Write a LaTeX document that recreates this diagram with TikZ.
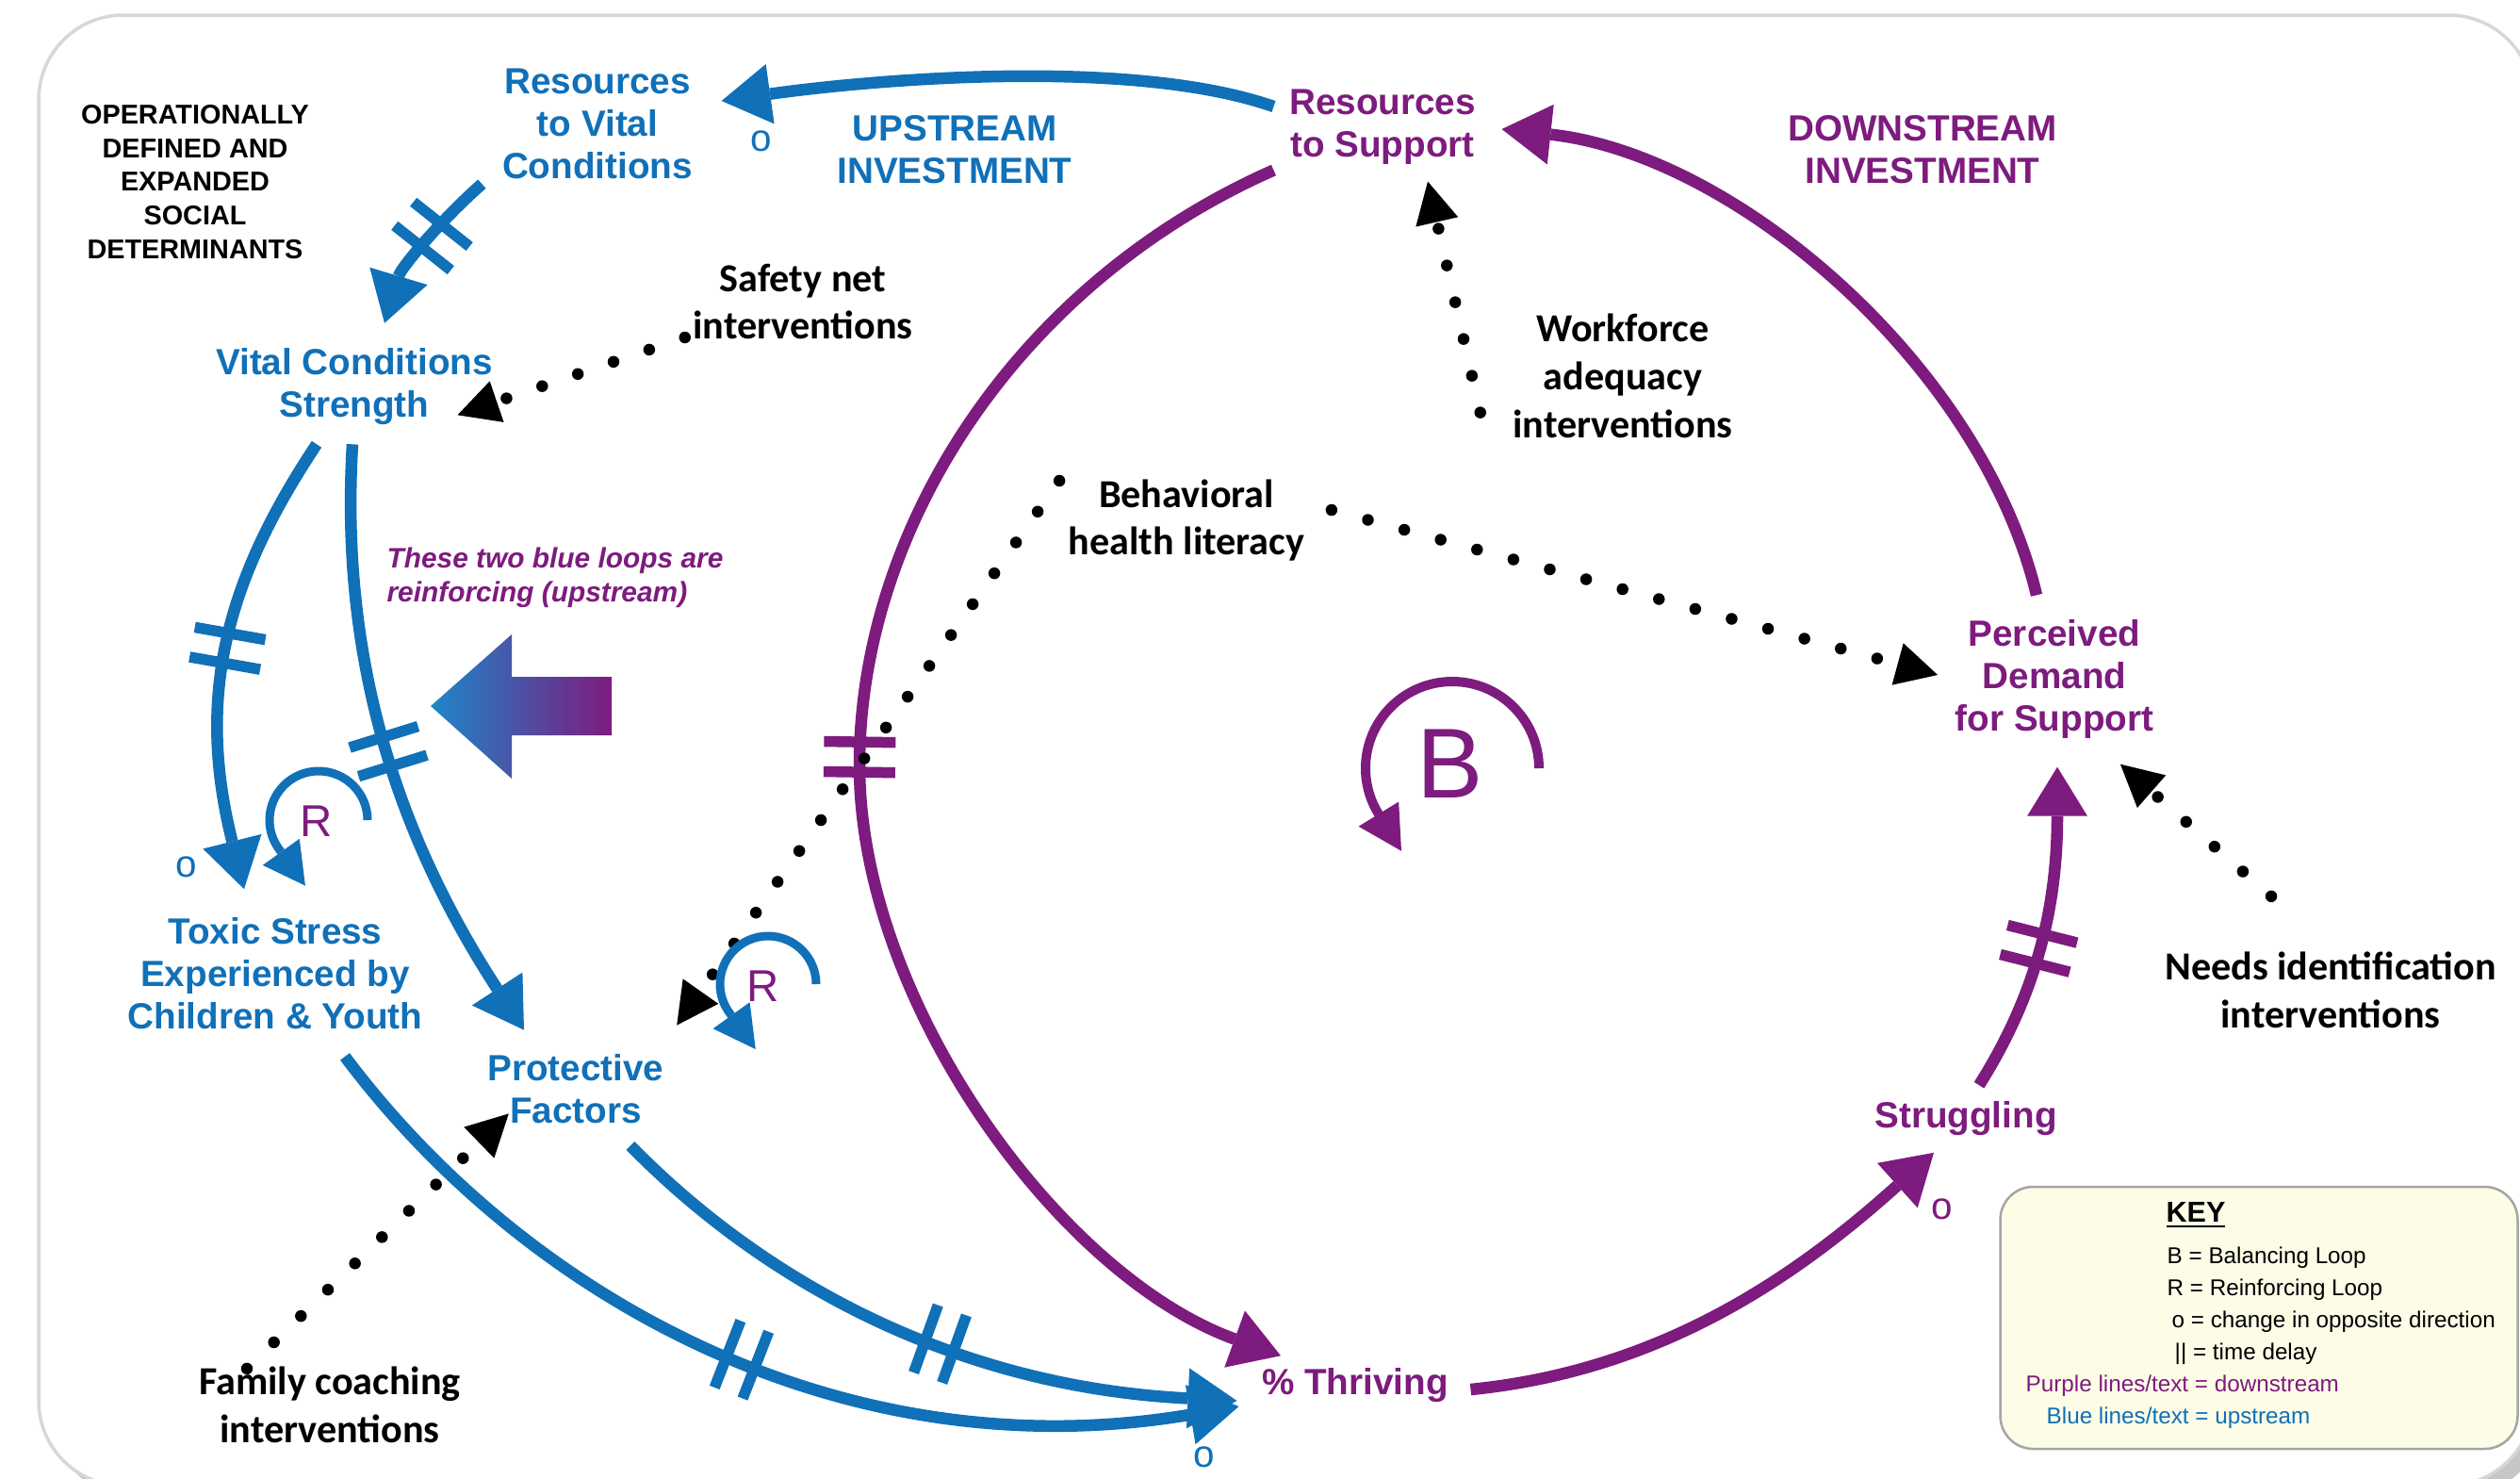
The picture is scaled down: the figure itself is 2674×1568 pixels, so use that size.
\documentclass[tikz,border=0pt]{standalone}
\usepackage{fontspec}
\setmainfont{Liberation Sans}
\newfontfamily\calib{Carlito}
\usepackage{tikz}
\usetikzlibrary{arrows.meta, decorations.markings, shadows}
\definecolor{vblue}{RGB}{16,112,184}
\definecolor{vpurple}{RGB}{125,27,126}
\definecolor{gblue}{RGB}{30,134,202}
\definecolor{keyfill}{RGB}{252,252,231}
\definecolor{keyrule}{RGB}{165,165,165}
\definecolor{framegray}{RGB}{215,215,215}

\begin{document}
\begin{tikzpicture}[
    x=0.1mm, y=-0.1mm,
    var/.style={font=\bfseries\fontsize{11}{12.8}\selectfont, align=center, inner sep=0pt},
    bvar/.style={var, text=vblue},
    pvar/.style={var, text=vpurple},
    intv/.style={font=\calib\bfseries\fontsize{12}{14.5}\selectfont, align=center, inner sep=0pt},
    opp/.style={font=\fontsize{11.5}{11.5}\selectfont, inner sep=0pt},
    lletter/.style={font=\fontsize{13.5}{14}\selectfont, text=vpurple, inner sep=0pt},
    link/.style={line width=1.25mm, -{Triangle[length=5.2mm, width=6.4mm, line width=0pt]}},
    upln/.style={link, color=vblue},
    downln/.style={link, color=vpurple},
    tdelay/.style={postaction={decorate, decoration={markings,
        mark=at position #1 with {\draw[-, line width=1.15mm] (-1.6mm,-3.8mm) -- (-1.6mm,3.8mm)
                                  (1.6mm,-3.8mm) -- (1.6mm,3.8mm);}}}},
    dotlink/.style={line width=1.25mm, line cap=round, dash pattern=on 0pt off 4mm,
        -{Triangle[length=4.4mm, width=4.6mm, line width=0pt]}},
    loopar/.style={line width=0.9mm, -{Triangle[length=4.4mm, width=4.8mm, line width=0pt]}},
    keybox/.style={draw=keyrule, fill=keyfill, rounded corners=3.5mm, line width=0.25mm,
        minimum width=54.9mm, minimum height=27.8mm, inner sep=0pt},
    keyln/.style={anchor=west, inner sep=0pt, font=\fontsize{6.9}{8}\selectfont}
]
\useasboundingbox (0,0) rectangle (2674,1568);
\draw[draw=framegray, line width=0.35mm, fill=white, rounded corners=9mm,
    drop shadow={shadow xshift=1.2mm, shadow yshift=-1.2mm, opacity=0.45}]
    (41,16) rectangle (2688,1576);

% variables
\node[bvar] (rvc) at (634,131) {Resources\\to Vital\\Conditions};
\node[pvar] (rs) at (1467,135) {Resources\\to Support};
\node[bvar] (upinv) at (1013,159) {UPSTREAM\\INVESTMENT};
\node[pvar] (downinv) at (2040,159) {DOWNSTREAM\\INVESTMENT};
\node[font=\bfseries\fontsize{8.2}{10.2}\selectfont, align=center, inner sep=0pt] (sdoh) at (207,193)
    {OPERATIONALLY\\DEFINED AND\\EXPANDED\\SOCIAL\\DETERMINANTS};
\node[bvar] (vcs) at (376,410) {Vital Conditions\\Strength};
\node[pvar] (pds) at (2180,720) {Perceived\\Demand\\for Support};
\node[bvar] (ts) at (292,1033) {Toxic Stress\\Experienced by\\Children \& Youth};
\node[bvar] (pf) at (611,1155) {Protective\\Factors};
\node[pvar] (thr) at (1438,1470) {\% Thriving};
\node[pvar] (strg) at (2086,1187) {Struggling};

% interventions
\node[intv] (safety) at (852,320) {Safety net\\interventions};
\node[intv] (workforce) at (1722,399) {Workforce\\adequacy\\interventions};
\node[intv] (behav) at (1259,552) {Behavioral\\health literacy};
\node[intv] (family) at (350,1490) {Family coaching\\interventions};
\node[intv] (needs) at (2473,1050) {Needs identification\\interventions};

\node[font=\bfseries\itshape\fontsize{8.5}{10.2}\selectfont, text=vpurple, align=left, inner sep=0pt]
    (note) at (589,613) {These two blue loops are\\reinforcing (upstream)};
\shade[left color=gblue, right color=vpurple]
    (457,749) -- (543,673) -- (543,718) -- (649,718) -- (649,780) -- (543,780) -- (543,826) -- cycle;

% upstream links
\draw[upln] ([xshift=-1.6mm,yshift=2.2mm]rs.west)
    .. controls +(-152,-53) and +(155,-22) .. ([xshift=3mm,yshift=2.4mm]rvc.east);
\draw[upln, tdelay=0.42] ([xshift=-2.1mm,yshift=-0.5mm]rvc.south west)
    .. controls +(-40,35) and +(18,-60) .. ([xshift=3.2mm,yshift=2.6mm]vcs.north);
\draw[upln, tdelay=0.48] ([xshift=-4mm,yshift=-2mm]vcs.south)
    .. controls +(-100,150) and +(-50,-200) .. ([xshift=-3.3mm,yshift=3mm]ts.north);
\draw[upln, tdelay=0.5] ([xshift=-0.2mm,yshift=-2mm]vcs.south)
    .. controls +(-12,200) and +(-150,-230) .. ([xshift=-5.5mm,yshift=2.5mm]pf.north);
\draw[upln, tdelay=0.5] ([xshift=7.4mm,yshift=-2.8mm]ts.south)
    .. controls +(192,256) and +(-420,71) .. ([xshift=-2.4mm,yshift=-2.2mm]thr.west);
\draw[upln, tdelay=0.55] ([xshift=5.8mm,yshift=-2.3mm]pf.south)
    .. controls +(140,143) and +(-300,-15) .. ([xshift=-2.6mm,yshift=-1.6mm]thr.west);

% downstream links
\draw[downln, tdelay=0.495] ([xshift=-1.6mm,yshift=-0.5mm]rs.south west)
    .. controls +(-274,121) and +(0,-250) .. (912,812)
    .. controls +(0,250) and +(-235,-85) .. ([xshift=-7.9mm,yshift=1.3mm]thr.north);
\draw[downln] ([xshift=2.3mm,yshift=-0.4mm]thr.east)
    .. controls +(200,-20) and +(-149,134) .. ([xshift=-3.4mm,yshift=-1.7mm]strg.south);
\draw[downln, tdelay=0.45] ([xshift=1.4mm,yshift=1.7mm]strg.north)
    .. controls +(60,-95) and +(0,150) .. ([xshift=0.3mm,yshift=-3mm]pds.south);
\draw[downln] ([xshift=-1.9mm,yshift=2.5mm]pds.north)
    .. controls +(-58,-243) and +(248,27) .. ([xshift=2.7mm,yshift=-0.2mm]rs.east);

% interventions acting on variables
\draw[dotlink] ([xshift=-0.8mm,yshift=0.3mm]safety.south west) -- ([xshift=-3.8mm,yshift=1.1mm]vcs.south east);
\draw[dotlink] ([xshift=-3.4mm,yshift=2.8mm]workforce.south west) -- ([xshift=4.8mm,yshift=-1.7mm]rs.south);
\draw[dotlink] ([xshift=2.8mm,yshift=1.1mm]behav.east) -- ([xshift=-1.8mm,yshift=0.4mm]pds.west);
\draw[dotlink] ([xshift=-0.9mm,yshift=4.2mm]behav.west) -- ([xshift=1.3mm,yshift=3mm]pf.north east);
\draw[dotlink] ([xshift=-8.8mm,yshift=-0.3mm]family.north) -- ([xshift=2.3mm,yshift=1.1mm]pf.south west);
\draw[dotlink] ([xshift=-6.3mm,yshift=5.8mm]needs.north) -- ([xshift=-3.6mm,yshift=-2.7mm]pds.south east);

% opposite-direction marks
\node[opp, text=vblue] (o1) at (808,150) {o};
\node[opp, text=vblue] (o2) at (198,920) {o};
\node[opp, text=vblue] (o3) at (1278,1546) {o};
\node[opp, text=vpurple] (o4) at (2061,1283) {o};

% loop markers
\node[lletter] (r1) at (336,871) {R};
\draw[loopar, vblue] ([xshift=5.4mm,yshift=0.1mm]r1.center)
    arc[start angle=0, end angle=-216, radius=52] -- ++(28,39);
\node[lletter] (r2) at (810,1046) {R};
\draw[loopar, vblue] ([xshift=5.6mm,yshift=0.2mm]r2.center)
    arc[start angle=0, end angle=-216, radius=51] -- ++(28,39);
\node[font=\fontsize{30}{30}\selectfont, text=vpurple, inner sep=0pt] (bl) at (1539,810) {B};
\draw[line width=1mm, vpurple, -{Triangle[length=4.6mm, width=5mm, line width=0pt]}]
    ([xshift=9.4mm,yshift=-0.5mm]bl.center) arc[start angle=0, end angle=-212, radius=92] -- ++(24,39);

% key
\node[keybox] (key) at (2397,1398) {};
\node[font=\bfseries\fontsize{8.7}{10}\selectfont, inner sep=0pt] (keyhd) at (2330,1289) {\underline{KEY}};
\node[keyln] (kb) at (2299,1334) {B = Balancing Loop};
\node[keyln] (kr) at (2299,1368) {R = Reinforcing Loop};
\node[keyln] (ko) at (2304,1402) {o = change in opposite direction};
\node[keyln] (kd) at (2307,1436) {|| = time delay};
\node[keyln, text=vpurple] (kp) at (2149,1470) {Purple lines/text = downstream};
\node[keyln, text=vblue] (kbl) at (2171,1504) {Blue lines/text = upstream};
\end{tikzpicture}
\end{document}
